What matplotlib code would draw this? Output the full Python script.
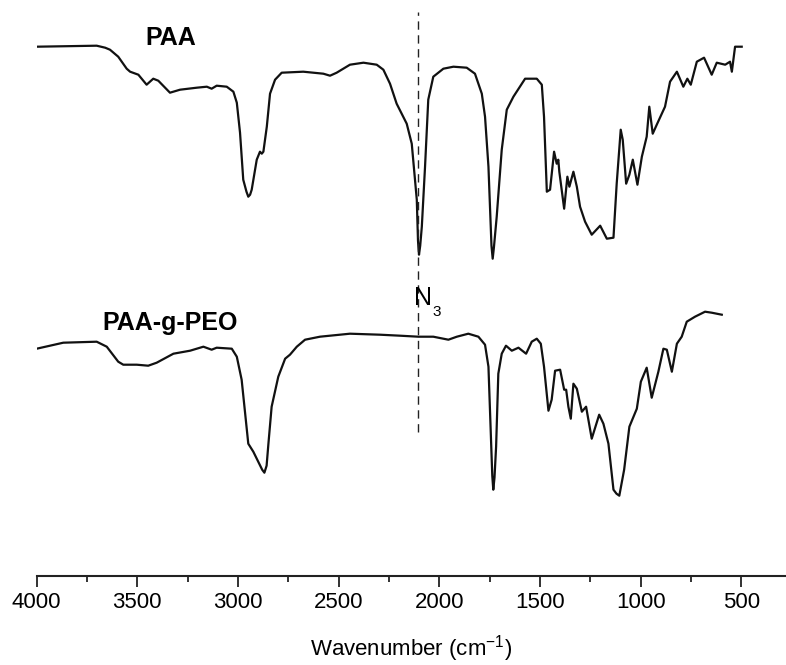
import matplotlib
matplotlib.use("Agg")
import matplotlib.pyplot as plt
import numpy as np
from matplotlib.ticker import MultipleLocator

plt.rcParams['font.family'] = ['Liberation Sans', 'DejaVu Sans']
plt.rcParams['mathtext.fontset'] = 'custom'
plt.rcParams['mathtext.rm'] = 'Liberation Sans'
plt.rcParams['mathtext.it'] = 'Liberation Sans'
plt.rcParams['mathtext.default'] = 'regular'

# ---- data (wavenumber in cm-1, transmittance in arbitrary offset units) ----
paa_wn = [4000, 3702, 3660, 3636, 3595, 3553, 3536, 3495, 3454, 3421, 3396, 3338, 3288,
          3205, 3155, 3131, 3106, 3056, 3023, 3006, 2990, 2974, 2958, 2949, 2940, 2932, 2907,
          2891, 2882, 2874, 2857, 2841, 2816, 2783, 2676, 2576, 2543, 2510, 2444,
          2377, 2311, 2278, 2245, 2212, 2162, 2137, 2112, 2106, 2101, 2095, 2087, 2071, 2055,
          2030, 1980, 1930, 1864, 1823, 1789, 1773, 1756, 1741, 1735, 1729, 1715, 1690, 1665,
          1632, 1574, 1516, 1491, 1480, 1466, 1450, 1430, 1417, 1409, 1404, 1380,
          1364, 1354, 1334, 1317, 1301, 1276, 1243, 1201, 1168, 1135, 1119, 1099,
          1089, 1072, 1056, 1039, 1016, 994, 970, 957, 940, 920, 879, 854, 820,
          788, 768, 751, 721, 685, 647, 622, 580, 556, 547, 531, 498]
paa_t = [529, 530, 528, 526, 519, 507, 504, 501, 491, 497, 495, 483, 486,
         488, 489, 487, 490, 489, 484, 473, 443, 396, 384, 379, 381, 386, 416,
         424, 422, 424, 449, 482, 496, 503, 504, 502, 500, 503, 511,
         513, 511, 506, 492, 472, 452, 432, 376, 335, 321, 330, 349, 409, 476,
         499, 507, 509, 508, 502, 482, 459, 409, 330, 317, 328, 359, 426, 466,
         479, 497, 497, 491, 459, 384, 386, 424, 412, 416, 404, 367,
         399, 389, 404, 389, 369, 354, 341, 350, 337, 338, 392, 446,
         436, 392, 401, 416, 391, 419, 439, 469, 442, 451, 469, 494, 504,
         489, 497, 491, 514, 518, 501, 513, 511, 514, 504, 529, 529]

peo_wn = [4000, 3868, 3702, 3652, 3595, 3570, 3503, 3446, 3404, 3321, 3238, 3172,
          3131, 3106, 3031, 3006, 2982, 2949, 2924, 2880, 2869, 2858, 2849, 2833, 2800, 2766,
          2742, 2708, 2667, 2593, 2444, 2295, 2195, 2104, 2030, 1955, 1913, 1856,
          1806, 1773, 1756, 1745, 1737, 1732, 1726, 1718, 1707, 1690, 1669, 1640, 1607, 1569,
          1541, 1516, 1496, 1480, 1458, 1442, 1425, 1400, 1380, 1370, 1359, 1347,
          1334, 1317, 1292, 1271, 1243, 1206, 1185, 1160, 1135, 1120, 1106, 1082, 1056,
          1019, 999, 970, 945, 912, 887, 870, 845, 820, 796, 771, 730, 680, 647, 597]
peo_t = [227, 233, 234, 229, 214, 211, 211, 210, 213, 222, 225, 229,
         226, 228, 227, 219, 196, 132, 124, 106, 103, 110, 132, 169, 199, 217,
         221, 229, 236, 239, 242, 241, 240, 239, 239, 236, 239, 242,
         239, 231, 209, 146, 100, 86, 98, 129, 202, 222, 230, 225, 228, 222,
         234, 237, 232, 209, 165, 176, 205, 206, 186, 186, 169, 157,
         192, 187, 164, 169, 137, 161, 152, 132, 86, 82, 80, 106, 149,
         167, 194, 208, 178, 204, 227, 226, 204, 232, 239, 254, 259, 264, 263, 261]

series_names = ["PAA", "PAA-g-PEO"]
label_wn = [3333, 3338]
label_t = [531, 246]

azide_wn = 2105
azide_span = [144, 564]
azide_label = "N"
azide_sub = "3"
azide_label_t = 271

x_ticks = [4000, 3500, 3000, 2500, 2000, 1500, 1000, 500]
x_label = "Wavenumber (cm$^{-1}$)"

# ---- figure ----
W, H = 786, 665
fig = plt.figure(figsize=(W / 100, H / 100), dpi=100)
ax = fig.add_axes([36.7 / W, 89.3 / H, 1 - 36.7 / W, 1 - 89.3 / H])

ax.plot(paa_wn, paa_t, color='#111111', lw=1.6, solid_joinstyle='round')
ax.plot(peo_wn, peo_t, color='#111111', lw=1.6, solid_joinstyle='round')

ax.plot([azide_wn, azide_wn], azide_span, color='#222222', lw=1.0,
        linestyle=(0, (6, 4)))

for name, xw, yt in zip(series_names, label_wn, label_t):
    ax.text(xw, yt, name, ha='center', va='baseline', fontsize=18,
            fontweight='bold')

ax.text(azide_wn + 20, azide_label_t, azide_label, ha='left', va='baseline',
        fontsize=18)
ax.text(azide_wn - 72, azide_label_t - 11, azide_sub, ha='left', va='baseline',
        fontsize=11)

ax.set_xlim(4000, 278)
ax.set_ylim(0, 575.7)
ax.set_xticks(x_ticks)
ax.set_xticklabels([str(t) for t in x_ticks])
ax.xaxis.set_minor_locator(MultipleLocator(250))
ax.set_yticks([])

for s in ['top', 'right', 'left']:
    ax.spines[s].set_visible(False)
ax.spines['bottom'].set_linewidth(1.5)
ax.spines['bottom'].set_color('#222222')

ax.tick_params(axis='x', which='major', direction='out', length=8, width=1.3,
               labelsize=16, pad=3.5, color='#222222')
ax.tick_params(axis='x', which='minor', direction='out', length=4, width=1.3,
               color='#222222')
ax.set_xlabel(x_label, fontsize=16, labelpad=15)

fig.savefig("out.png", dpi=100)
